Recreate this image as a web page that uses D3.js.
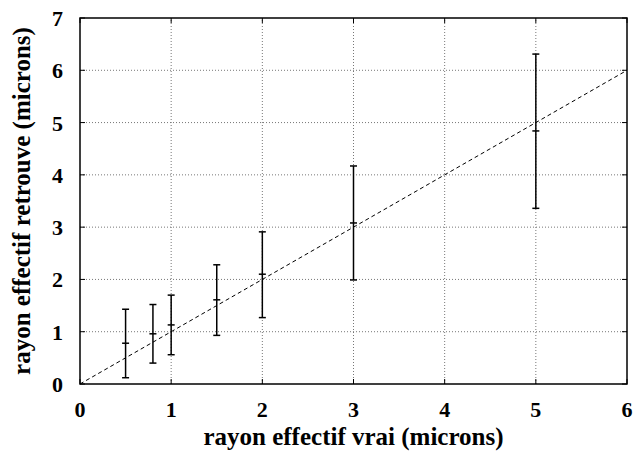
<!DOCTYPE html>
<html>
<head>
<meta charset="utf-8">
<script src="https://cdn.jsdelivr.net/npm/d3@7"></script>
<style>
  body { margin: 0; background: #fff; }
</style>
</head>
<body>
<script>
// data
var trueRadius = [0.5, 0.8, 1.0, 1.5, 2.0, 3.0, 5.0];
var retrieved = [0.78, 0.96, 1.13, 1.61, 2.10, 3.08, 4.84];
var lowErr = [0.12, 0.40, 0.56, 0.93, 1.27, 1.99, 3.36];
var highErr = [1.43, 1.52, 1.70, 2.28, 2.91, 4.17, 6.31];
var xTicks = [0, 1, 2, 3, 4, 5, 6];
var yTicks = [0, 1, 2, 3, 4, 5, 6, 7];

var width = 634, height = 461;
var margin = {left: 80, right: 7, top: 18, bottom: 77};
var font = "'Liberation Serif', 'Times New Roman', Times, serif";

var svg = d3.select("body").append("svg")
    .attr("width", width)
    .attr("height", height)
    .attr("font-family", font)
    .attr("font-weight", "bold");

var x = d3.scaleLinear().domain([0, 6]).range([margin.left, width - margin.right]);
var y = d3.scaleLinear().domain([0, 7]).range([height - margin.bottom, margin.top]);

// grid lines
svg.selectAll(".gx")
    .data(xTicks.slice(1, -1))
    .enter().append("line")
    .attr("x1", function(d) { return x(d); })
    .attr("x2", function(d) { return x(d); })
    .attr("y1", y(0)).attr("y2", y(7))
    .attr("stroke", "#777").attr("stroke-width", 1)
    .attr("stroke-dasharray", "1,2");

svg.selectAll(".gy")
    .data(yTicks.slice(1, -1))
    .enter().append("line")
    .attr("y1", function(d) { return y(d); })
    .attr("y2", function(d) { return y(d); })
    .attr("x1", x(0)).attr("x2", x(6))
    .attr("stroke", "#777").attr("stroke-width", 1)
    .attr("stroke-dasharray", "1,2");

// inner ticks, mirrored
var tk = 5;
xTicks.forEach(function(d) {
    svg.append("line").attr("x1", x(d)).attr("x2", x(d)).attr("y1", y(0)).attr("y2", y(0) - tk).attr("stroke", "#000");
    svg.append("line").attr("x1", x(d)).attr("x2", x(d)).attr("y1", y(7)).attr("y2", y(7) + tk).attr("stroke", "#000");
});
yTicks.forEach(function(d) {
    svg.append("line").attr("y1", y(d)).attr("y2", y(d)).attr("x1", x(0)).attr("x2", x(0) + tk).attr("stroke", "#000");
    svg.append("line").attr("y1", y(d)).attr("y2", y(d)).attr("x1", x(6)).attr("x2", x(6) - tk).attr("stroke", "#000");
});

// diagonal y = x
svg.append("line")
    .attr("x1", x(0)).attr("y1", y(0))
    .attr("x2", x(6)).attr("y2", y(6))
    .attr("stroke", "#000").attr("stroke-width", 1)
    .attr("stroke-dasharray", "4,3");

// error bars
var bars = svg.selectAll(".bar")
    .data(trueRadius)
    .enter().append("g");

bars.append("line")
    .attr("x1", function(d) { return x(d); })
    .attr("x2", function(d) { return x(d); })
    .attr("y1", function(d, i) { return y(lowErr[i]); })
    .attr("y2", function(d, i) { return y(highErr[i]); })
    .attr("stroke", "#000").attr("stroke-width", 1.5);

[lowErr, highErr, retrieved].forEach(function(arr) {
    bars.append("line")
        .attr("x1", function(d) { return x(d) - 3.5; })
        .attr("x2", function(d) { return x(d) + 3.5; })
        .attr("y1", function(d, i) { return y(arr[i]); })
        .attr("y2", function(d, i) { return y(arr[i]); })
        .attr("stroke", "#000").attr("stroke-width", 1.5);
});

// frame
svg.append("rect")
    .attr("x", x(0)).attr("y", y(7))
    .attr("width", x(6) - x(0)).attr("height", y(0) - y(7))
    .attr("fill", "none").attr("stroke", "#000").attr("stroke-width", 1.5);

// tick labels
svg.selectAll(".xl")
    .data(xTicks)
    .enter().append("text")
    .attr("x", function(d) { return x(d); })
    .attr("y", 417)
    .attr("text-anchor", "middle")
    .attr("font-size", 22)
    .text(function(d) { return d; });

svg.selectAll(".yl")
    .data(yTicks)
    .enter().append("text")
    .attr("x", 63)
    .attr("y", function(d) { return y(d) + 8; })
    .attr("text-anchor", "end")
    .attr("font-size", 22)
    .text(function(d) { return d; });

// axis titles
svg.append("text")
    .attr("x", (x(0) + x(6)) / 2)
    .attr("y", 445)
    .attr("text-anchor", "middle")
    .attr("font-size", 25)
    .text("rayon effectif vrai (microns)");

svg.append("text")
    .attr("transform", "translate(30,201) rotate(-90)")
    .attr("text-anchor", "middle")
    .attr("font-size", 25)
    .text("rayon effectif retrouve (microns)");
</script>
</body>
</html>
